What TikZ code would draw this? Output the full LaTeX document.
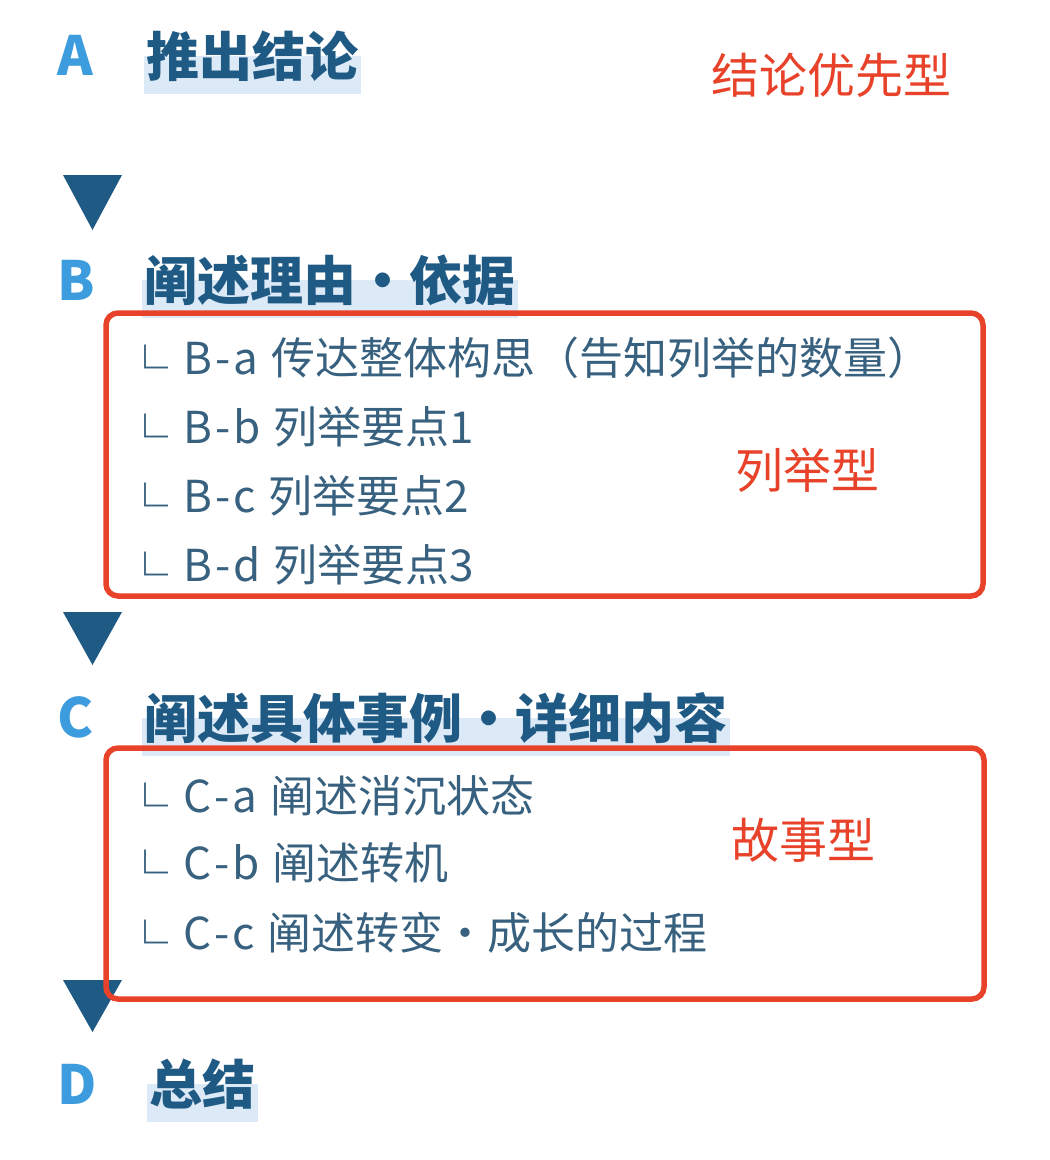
\documentclass[tikz,border=0pt]{standalone}
\usepackage{fontspec}
\usepackage{xcolor}
\usepackage{tikz}
\usetikzlibrary{calc, backgrounds}
\setmainfont{Noto Sans CJK SC}
\definecolor{headblue}{HTML}{1F5A85}
\definecolor{letterblue}{HTML}{3D9CDD}
\definecolor{bandblue}{HTML}{DCEAF7}
\definecolor{itemblue}{HTML}{38617F}
\definecolor{markred}{HTML}{E8432A}
\newcommand{\branch}{{\fontsize{46pt}{46pt}\selectfont\raisebox{-11pt}{└}}\hspace{15pt}}
\newcommand{\code}[2]{#1\hspace{3pt}-\hspace{3pt}#2\hspace{13pt}}

\begin{document}
\begin{tikzpicture}[x=1pt, y=-1pt,
  letter/.style={anchor=base west, inner sep=0pt, text=letterblue, font=\fontsize{54pt}{54pt}\selectfont\bfseries},
  heading/.style={anchor=base west, inner sep=0pt, text=headblue, font=\fontsize{53pt}{53pt}\selectfont\bfseries},
  item/.style={anchor=base west, inner sep=0pt, text=itemblue, font=\fontsize{44pt}{44pt}\selectfont},
  tag/.style={anchor=base west, inner sep=0pt, text=markred, font=\fontsize{48pt}{48pt}\selectfont},
  band/.style={fill=bandblue},
  marker/.style={fill=headblue},
  frame/.style={draw=markred, line width=5.5pt, rounded corners=12pt}]
  \useasboundingbox (0,0) rectangle (1050,1160);

  \node[letter] (lA) at (57,75) {A};
  \node[heading] (hA) at (146,76) {推出结论};
  \node[letter] (lB) at (57,300) {B};
  \node[heading] (hB) at (144,300) {阐述理由・依据};
  \node[letter] (lC) at (57,737) {C};
  \node[heading] (hC) at (144,738) {阐述具体事例・详细内容};
  \node[letter] (lD) at (57,1104) {D};
  \node[heading] (hD) at (149,1104) {总结};

  \begin{scope}[on background layer]
    \foreach \h in {hA, hB, hC, hD}
      \fill[band] ($(\h.base west)+(-2,-20)$) rectangle ($(\h.base east)+(3,18)$);
  \end{scope}

  \node[item] (ba) at (122,374) {\branch\code{B}{a}传达整体构思（告知列举的数量）};
  \node[item] (bb) at (122,443) {\branch\code{B}{b}列举要点1};
  \node[item] (bc) at (122,512) {\branch\code{B}{c}列举要点2};
  \node[item] (bd) at (122,581) {\branch\code{B}{d}列举要点3};

  \node[item] (ca) at (122,812) {\branch\code{C}{a}阐述消沉状态};
  \node[item] (cb) at (122,879) {\branch\code{C}{b}阐述转机};
  \node[item] (cc) at (122,949) {\branch\code{C}{c}阐述转变・成长的过程};

  \node[tag] (tA) at (711,93) {结论优先型};
  \node[tag] (tB) at (735,488) {列举型};
  \node[tag] (tC) at (731,858) {故事型};

  \fill[marker] (63,175) -- (122,175) -- (92.5,230) -- cycle;
  \fill[marker] (63,612) -- (122,612) -- (92.5,665) -- cycle;
  \fill[marker] (63,980) -- (122,980) -- (92.5,1032) -- cycle;

  \draw[frame] (106,313) rectangle (983,596);
  \draw[frame] (106,748) rectangle (984,999);
\end{tikzpicture}
\end{document}
